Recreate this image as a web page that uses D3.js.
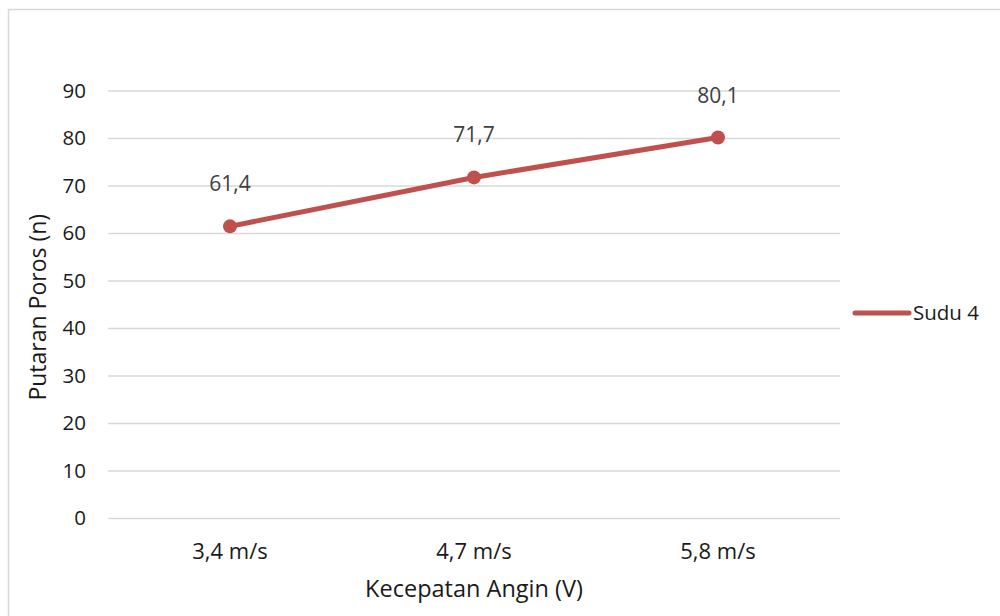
<!DOCTYPE html>
<html>
<head>
<meta charset="utf-8">
<script src="https://cdn.jsdelivr.net/npm/d3@7"></script>
<style>
  html, body { margin: 0; padding: 0; background: #fff; }
  svg { display: block; }
  text { font-family: "Open Sans", sans-serif; }
</style>
</head>
<body>
<svg id="chart" width="1000" height="616"></svg>
<script>
// Wind speed categories and shaft rotation for the 4-blade rotor
const categories = ["3,4 m/s", "4,7 m/s", "5,8 m/s"];
const rotation = [61.4, 71.7, 80.1];
const yTicks = [0, 10, 20, 30, 40, 50, 60, 70, 80, 90];
const seriesName = "Sudu 4";
const xTitle = "Kecepatan Angin (V)";
const yTitle = "Putaran Poros (n)";

const W = 1000, H = 616;
const plot = { left: 108, right: 840, top: 90.5, bottom: 518 };
const red = "#C0504D";
const font = "'Open Sans', sans-serif";

const svg = d3.select("#chart");

// chart frame
svg.append("rect")
  .attr("x", 8.5).attr("y", 9.5)
  .attr("width", W + 10).attr("height", H + 10)
  .attr("fill", "#fff").attr("stroke", "#d9d9d9").attr("stroke-width", 1.5);

const x = d3.scaleBand().domain(categories).range([plot.left, plot.right]);
const y = d3.scaleLinear().domain([0, 90]).range([plot.bottom, plot.top]);

// gridlines + y labels
const yAxis = d3.axisLeft(y).tickValues(yTicks).tickSize(-(plot.right - plot.left)).tickPadding(22);
const gy = svg.append("g").attr("transform", `translate(${plot.left},0)`).call(yAxis);
gy.select(".domain").remove();
gy.selectAll(".tick line").attr("stroke", "#d9d9d9").attr("stroke-width", 1.5);
gy.selectAll(".tick text")
  .attr("fill", "#1a1a1a").attr("font-size", 20.5).attr("font-family", font);

// x labels
const xAxis = d3.axisBottom(x).tickSize(0).tickPadding(25);
const gx = svg.append("g").attr("transform", `translate(0,${plot.bottom})`).call(xAxis);
gx.select(".domain").remove();
gx.selectAll(".tick text")
  .attr("fill", "#1a1a1a").attr("font-size", 22).attr("font-family", font);

// axis titles
svg.append("text")
  .attr("x", (plot.left + plot.right) / 2).attr("y", 597)
  .attr("text-anchor", "middle").attr("font-size", 23.5).attr("fill", "#1a1a1a")
  .text(xTitle);
svg.append("text")
  .attr("transform", `translate(46,${(plot.top + plot.bottom) / 2 + 3}) rotate(-90)`)
  .attr("text-anchor", "middle").attr("font-size", 23).attr("fill", "#1a1a1a")
  .text(yTitle);

// series
const pts = categories.map((c, i) => ({ c, v: rotation[i] }));
const cx = d => x(d.c) + x.bandwidth() / 2;

svg.append("path")
  .datum(pts)
  .attr("fill", "none").attr("stroke", red).attr("stroke-width", 5).attr("stroke-linecap", "round")
  .attr("d", d3.line().x(cx).y(d => y(d.v)));

svg.selectAll("circle.pt").data(pts).join("circle")
  .attr("class", "pt")
  .attr("cx", cx).attr("cy", d => y(d.v)).attr("r", 7)
  .attr("fill", red);

svg.selectAll("text.val").data(pts).join("text")
  .attr("class", "val")
  .attr("x", cx).attr("y", d => y(d.v) - 35)
  .attr("text-anchor", "middle").attr("font-size", 21).attr("fill", "#404040")
  .text(d => String(d.v).replace(".", ","));

// legend
const lg = svg.append("g").attr("transform", "translate(855,313)");
lg.append("line").attr("x1", 0).attr("x2", 54).attr("y1", 0).attr("y2", 0)
  .attr("stroke", red).attr("stroke-width", 5).attr("stroke-linecap", "round");
lg.append("text").attr("x", 58).attr("y", 7).attr("font-size", 20.5).attr("fill", "#1a1a1a")
  .text(seriesName);
</script>
</body>
</html>
